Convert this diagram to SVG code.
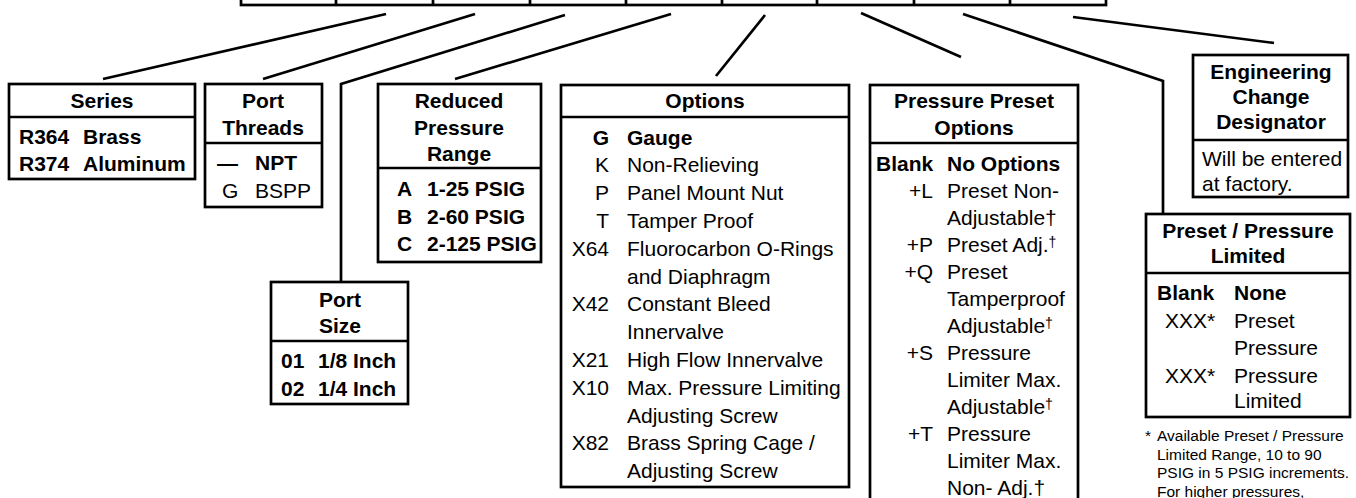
<svg xmlns="http://www.w3.org/2000/svg" width="1356" height="498" viewBox="0 0 1356 498">
<style>
.box{fill:#fff;stroke:#000;stroke-width:2.7}
.ln{fill:none;stroke:#000;stroke-width:2.7}
text{font-family:"Liberation Sans",Arial,Helvetica,sans-serif;font-size:21px;fill:#000}
.h{font-weight:bold;text-anchor:middle}
.b{font-weight:bold}
.e{text-anchor:end}
.fn{font-size:15.5px}
.sup{font-size:14px}
</style>
<rect width="1356" height="498" fill="#fff"/>
<g id="code-bar">
<rect class="box" x="241" y="-10" width="865" height="15"/>
<path class="ln" d="M336 -10V5M433 -10V5M530 -10V5M626 -10V5M722 -10V5M817 -10V5M914 -10V5M1010 -10V5"/>
</g>
<g id="connectors">
<path class="ln" d="M386 14L103 79"/>
<path class="ln" d="M475 14L263 79"/>
<path class="ln" d="M565 15L341 84V282"/>
<path class="ln" d="M671 14L455 79"/>
<path class="ln" d="M765 15L716 76"/>
<path class="ln" d="M861 13L961 57"/>
<path class="ln" d="M963 14L1163 81V214"/>
<path class="ln" d="M1073 17L1274 43"/>
</g>
<g id="series">
<rect class="box" x="9" y="84" width="186" height="95"/>
<line class="ln" x1="9" y1="117" x2="195" y2="117"/>
<text class="h" x="102" y="107.5">Series</text>
<text class="b" x="19" y="143.5">R364</text><text class="b" x="83" y="143.5">Brass</text>
<text class="b" x="19" y="170.5">R374</text><text class="b" x="83" y="170.5">Aluminum</text>
</g>
<g id="port-threads">
<rect class="box" x="205" y="84" width="117" height="123"/>
<line class="ln" x1="205" y1="143" x2="322" y2="143"/>
<text class="h" x="263" y="107.5">Port</text>
<text class="h" x="263" y="134.5">Threads</text>
<text class="b" x="217" y="169.5">—</text><text class="b" x="255" y="169.5">NPT</text>
<text x="222" y="197.5">G</text><text x="255" y="197.5">BSPP</text>
</g>
<g id="port-size">
<rect class="box" x="271" y="282" width="137" height="122"/>
<line class="ln" x1="271" y1="341" x2="408" y2="341"/>
<text class="h" x="340" y="306.5">Port</text>
<text class="h" x="340" y="332.5">Size</text>
<text class="b" x="281" y="367.5">01</text><text class="b" x="318" y="367.5">1/8 Inch</text>
<text class="b" x="281" y="395.5">02</text><text class="b" x="318" y="395.5">1/4 Inch</text>
</g>
<g id="reduced-pressure-range">
<rect class="box" x="378" y="84" width="163" height="178"/>
<line class="ln" x1="378" y1="168" x2="541" y2="168"/>
<text class="h" x="459" y="107.5">Reduced</text>
<text class="h" x="459" y="134.5">Pressure</text>
<text class="h" x="459" y="160.5">Range</text>
<text class="b" x="397" y="195.5">A</text><text class="b" x="427" y="195.5">1-25 PSIG</text>
<text class="b" x="397" y="223.5">B</text><text class="b" x="427" y="223.5">2-60 PSIG</text>
<text class="b" x="397" y="250.5">C</text><text class="b" x="427" y="250.5">2-125 PSIG</text>
</g>
<g id="options">
<rect class="box" x="561" y="85" width="288" height="402"/>
<line class="ln" x1="561" y1="117" x2="849" y2="117"/>
<text class="h" x="705" y="108">Options</text>
<text class="b e" x="609" y="144.5">G</text><text class="b" x="627" y="144.5">Gauge</text>
<text class="e" x="609" y="172.3">K</text><text x="627" y="172.3">Non-Relieving</text>
<text class="e" x="609" y="200.1">P</text><text x="627" y="200.1">Panel Mount Nut</text>
<text class="e" x="609" y="227.9">T</text><text x="627" y="227.9">Tamper Proof</text>
<text class="e" x="609" y="255.7">X64</text><text x="627" y="255.7">Fluorocarbon O-Rings</text>
<text x="627" y="283.5">and Diaphragm</text>
<text class="e" x="609" y="311.3">X42</text><text x="627" y="311.3">Constant Bleed</text>
<text x="627" y="339.1">Innervalve</text>
<text class="e" x="609" y="366.9">X21</text><text x="627" y="366.9">High Flow Innervalve</text>
<text class="e" x="609" y="394.7">X10</text><text x="627" y="394.7">Max. Pressure Limiting</text>
<text x="627" y="422.5">Adjusting Screw</text>
<text class="e" x="609" y="450.3">X82</text><text x="627" y="450.3">Brass Spring Cage /</text>
<text x="627" y="478.1">Adjusting Screw</text>
</g>
<g id="pressure-preset-options">
<rect class="box" x="870" y="85" width="208" height="430"/>
<line class="ln" x1="870" y1="143" x2="1078" y2="143"/>
<text class="h" x="974" y="108">Pressure Preset</text>
<text class="h" x="974" y="134.5">Options</text>
<text class="b" x="876" y="170.5">Blank</text><text class="b" x="947" y="170.5">No Options</text>
<text class="e" x="933" y="197.5">+L</text><text x="947" y="197.5">Preset Non-</text>
<text x="947" y="224.5">Adjustable†</text>
<text class="e" x="933" y="251.5">+P</text><text x="947" y="251.5">Preset Adj.<tspan class="sup" dy="-5">†</tspan></text>
<text class="e" x="933" y="278.5">+Q</text><text x="947" y="278.5">Preset</text>
<text x="947" y="305.5">Tamperproof</text>
<text x="947" y="332.5">Adjustable<tspan class="sup" dy="-5">†</tspan></text>
<text class="e" x="933" y="359.5">+S</text><text x="947" y="359.5">Pressure</text>
<text x="947" y="386.5">Limiter Max.</text>
<text x="947" y="413.5">Adjustable<tspan class="sup" dy="-5">†</tspan></text>
<text class="e" x="933" y="440.5">+T</text><text x="947" y="440.5">Pressure</text>
<text x="947" y="467.5">Limiter Max.</text>
<text x="947" y="494.5">Non- Adj.†</text>
</g>
<g id="engineering-change-designator">
<rect class="box" x="1193" y="55" width="155" height="142"/>
<line class="ln" x1="1193" y1="140" x2="1348" y2="140"/>
<text class="h" x="1271" y="78.5">Engineering</text>
<text class="h" x="1271" y="103.5">Change</text>
<text class="h" x="1271" y="128.5">Designator</text>
<text x="1202" y="165.5">Will be entered</text>
<text x="1202" y="190.5">at factory.</text>
</g>
<g id="preset-pressure-limited">
<rect class="box" x="1146" y="214" width="204" height="203"/>
<line class="ln" x1="1146" y1="273" x2="1350" y2="273"/>
<text class="h" x="1248" y="237.5">Preset / Pressure</text>
<text class="h" x="1248" y="262.5">Limited</text>
<text class="b" x="1157" y="299.5">Blank</text><text class="b" x="1234" y="299.5">None</text>
<text x="1165" y="327.5">XXX*</text><text x="1234" y="327.5">Preset</text>
<text x="1234" y="354.5">Pressure</text>
<text x="1165" y="382.5">XXX*</text><text x="1234" y="382.5">Pressure</text>
<text x="1234" y="407.5">Limited</text>
</g>
<g id="footnote">
<text class="fn" x="1145" y="441">*</text>
<text class="fn" x="1157" y="441">Available Preset / Pressure</text>
<text class="fn" x="1157" y="459.5">Limited Range, 10 to 90</text>
<text class="fn" x="1157" y="478">PSIG in 5 PSIG increments.</text>
<text class="fn" x="1157" y="496.5">For higher pressures,</text>
</g>
</svg>
